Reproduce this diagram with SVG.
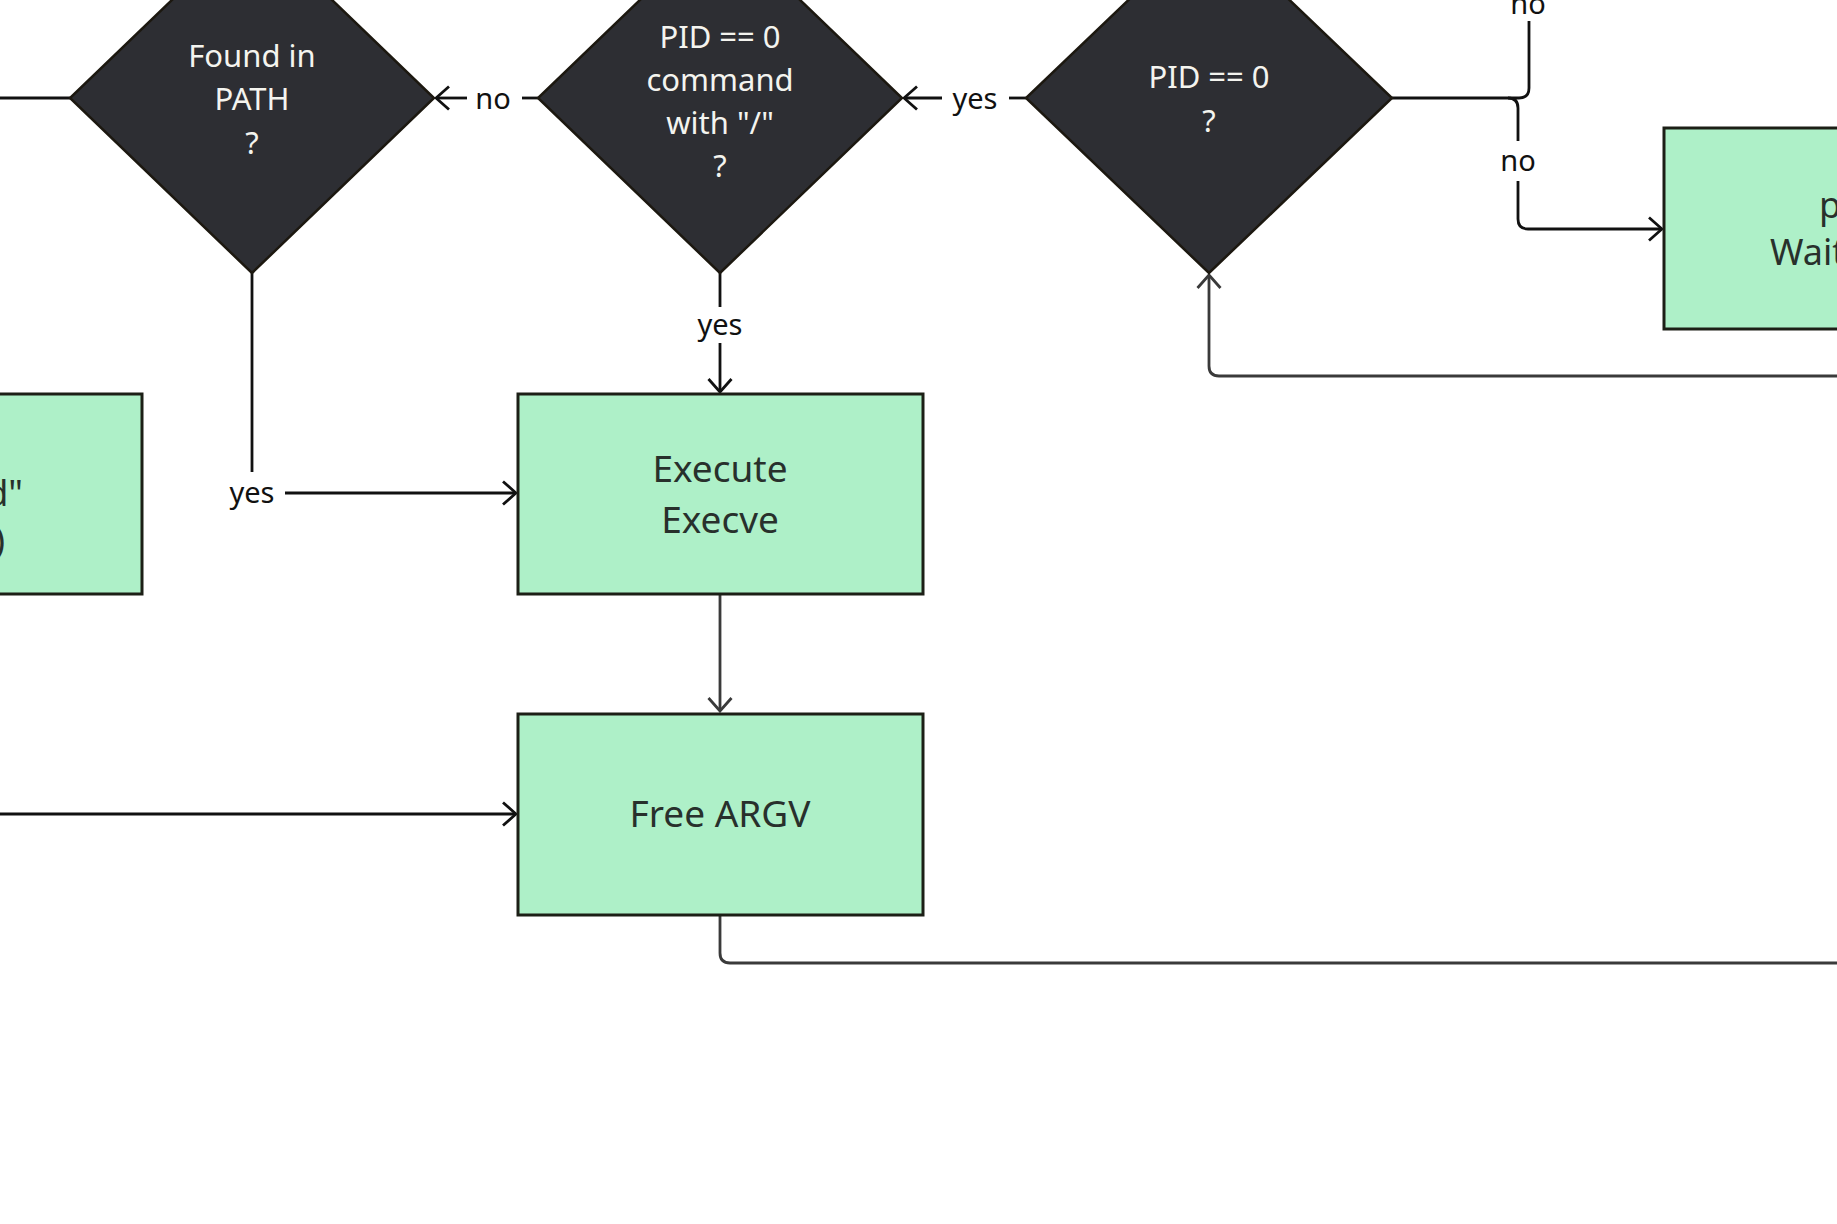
<svg xmlns="http://www.w3.org/2000/svg" width="1837" height="1224" viewBox="0 0 1837 1224">
<style>
.dia{fill:#2d2e33;stroke:#1c1810;stroke-width:2.5}
.box{fill:#aef0c8;stroke:#1c1f16;stroke-width:3}
.dt{font-family:"Noto Sans","Open Sans",sans-serif;font-size:31px;fill:#f4f4ef;text-anchor:middle}
.bt{font-family:"Noto Sans","Open Sans",sans-serif;font-size:37px;fill:#28302c;text-anchor:middle}
.bs{font-family:"Noto Sans","Open Sans",sans-serif;font-size:36px;fill:#28302c}
.lb{font-family:"Noto Sans","Open Sans",sans-serif;font-size:29px;fill:#111;text-anchor:middle}
.c{fill:none;stroke:#111;stroke-width:2.8}
.g{fill:none;stroke:#3a3a3a;stroke-width:2.8}
</style>
<defs>
<marker id="a" viewBox="0 0 18 26" refX="16" refY="13" markerWidth="18" markerHeight="26" markerUnits="userSpaceOnUse" orient="auto">
<path d="M3,1.5 L16,13 L3,24.5" fill="none" stroke="#111" stroke-width="2.8"/>
</marker>
<marker id="ag" viewBox="0 0 18 26" refX="16" refY="13" markerWidth="18" markerHeight="26" markerUnits="userSpaceOnUse" orient="auto">
<path d="M3,1.5 L16,13 L3,24.5" fill="none" stroke="#3a3a3a" stroke-width="2.8"/>
</marker>
</defs>
<rect width="1837" height="1224" fill="#fff"/>
<g id="connectors">
<path class="c" d="M0,98 H70"/>
<path class="c" d="M538,98 H522"/>
<path class="c" d="M467,98 H436" marker-end="url(#a)"/>
<text class="lb" x="493" y="109">no</text>
<path class="c" d="M1026,98 H1009"/>
<path class="c" d="M942,98 H904" marker-end="url(#a)"/>
<text class="lb" x="975" y="109">yes</text>
<path class="c" d="M1392,98 H1519 Q1529,98 1529,88 V21"/>
<text class="lb" x="1528" y="14">no</text>
<path class="c" d="M1508,98 Q1518,98 1518,108 V141"/>
<text class="lb" x="1518" y="171">no</text>
<path class="c" d="M1518,181 V219 Q1518,229 1528,229 H1662" marker-end="url(#a)"/>
<path class="g" d="M1837,376 H1219 Q1209,376 1209,366 V275" marker-end="url(#ag)"/>
<path class="c" d="M252,273 V472"/>
<text class="lb" x="252" y="503">yes</text>
<path class="c" d="M285,493 H516" marker-end="url(#a)"/>
<path class="c" d="M720,273 V307"/>
<text class="lb" x="720" y="335">yes</text>
<path class="c" d="M720,343 V392" marker-end="url(#a)"/>
<path class="g" d="M720,594 V711" marker-end="url(#ag)"/>
<path class="c" d="M0,814 H516" marker-end="url(#a)"/>
<path class="g" d="M720,915 V953 Q720,963 730,963 H1837"/>
</g>
<g id="found-in-path">
<polygon class="dia" points="252,-77 434,98 252,273 70,98"/>
<text class="dt" x="252" y="67">Found in</text>
<text class="dt" x="252" y="110">PATH</text>
<text class="dt" x="252" y="154">?</text>
</g>
<g id="pid-command">
<polygon class="dia" points="720,-77 902,98 720,273 538,98"/>
<text class="dt" x="720" y="48">PID == 0</text>
<text class="dt" x="720" y="91">command</text>
<text class="dt" x="720" y="134">with "/"</text>
<text class="dt" x="720" y="177">?</text>
</g>
<g id="pid-zero">
<polygon class="dia" points="1209,-77 1392,98 1209,273 1026,98"/>
<text class="dt" x="1209" y="88">PID == 0</text>
<text class="dt" x="1209" y="132">?</text>
</g>
<g id="not-found">
<rect class="box" x="-263" y="394" width="405" height="200"/>
<text class="bs" x="23" y="506" text-anchor="end">"command not found"</text>
<text class="bs" x="5" y="553" text-anchor="end">exit(127)</text>
</g>
<g id="execute">
<rect class="box" x="518" y="394" width="405" height="200"/>
<text class="bt" x="720" y="482">Execute</text>
<text class="bt" x="720" y="533">Execve</text>
</g>
<g id="free-argv">
<rect class="box" x="518" y="714" width="405" height="201"/>
<text class="bt" x="720" y="827">Free ARGV</text>
</g>
<g id="parent">
<rect class="box" x="1664" y="128" width="405" height="201"/>
<text class="bs" x="1819" y="218" text-anchor="start">parent</text>
<text class="bs" x="1770" y="265" text-anchor="start">Wait(pid)</text>
</g>
</svg>
